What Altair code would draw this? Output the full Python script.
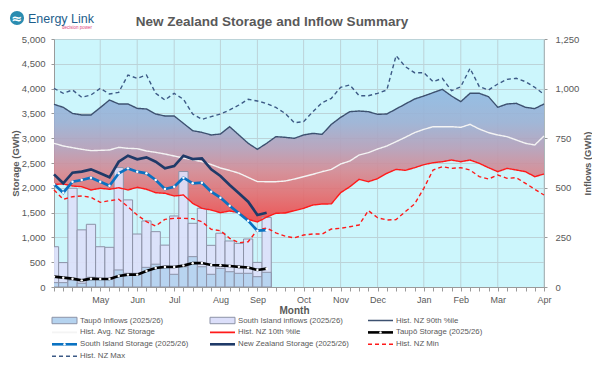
import altair as alt
import pandas as pd

# ---------------- data ----------------
chart_title = "New Zealand Storage and Inflow Summary"
month_labels = ["May", "Jun", "Jul", "Aug", "Sep", "Oct", "Nov", "Dec", "Jan", "Feb", "Mar", "Apr"]
month_weeks = [5, 9, 13, 18, 22, 27, 31, 35, 40, 44, 48, 53]

hist_90 = [3683, 3623, 3500, 3468, 3468, 3616, 3770, 3690, 3690, 3602,
           3589, 3488, 3448, 3448, 3300, 3151, 3118, 3065, 3085, 3232,
           3065, 2897, 2776, 2897, 3031, 3018, 2998, 3065, 3098, 3078,
           3279, 3420, 3535, 3548, 3535, 3481, 3488, 3589, 3690, 3790,
           3851, 3918, 3985, 3851, 3737, 3905, 3905, 3837, 3623, 3690,
           3703, 3623, 3596, 3690]
hist_avg = [2897, 2843, 2809, 2776, 2749, 2755, 2762, 2816, 2796, 2789,
            2742, 2715, 2681, 2641, 2600, 2565, 2527, 2470, 2400, 2350,
            2295, 2210, 2125, 2123, 2123, 2137, 2177, 2224, 2272, 2325,
            2372, 2480, 2540, 2661, 2708, 2782, 2843, 2930, 3018, 3112,
            3178, 3232, 3232, 3232, 3219, 3279, 3185, 3112, 3065, 3031,
            2964, 2897, 2863, 3044]
hist_10 = [2070, 2077, 2036, 2022, 1956, 1990, 1970, 2002, 1956, 2010,
           1970, 1901, 1889, 1835, 1855, 1687, 1586, 1552, 1498, 1532,
           1498, 1364, 1310, 1410, 1486, 1492, 1539, 1586, 1653, 1673,
           1676, 1901, 2022, 2170, 2123, 2184, 2291, 2372, 2352, 2405,
           2466, 2506, 2526, 2560, 2526, 2560, 2493, 2405, 2325, 2392,
           2359, 2325, 2224, 2278]
hist_min = [1956, 1768, 1821, 1835, 1808, 1707, 1740, 1768, 1619, 1452,
            1317, 1230, 1364, 1385, 1385, 1378, 1317, 1163, 1135, 982,
            893, 913, 1149, 1190, 1090, 1025, 990, 1048, 1068, 1068,
            1169, 1183, 1216, 1250, 1539, 1397, 1351, 1358, 1519, 1673,
            1990, 2359, 2426, 2392, 2405, 2359, 2224, 2177, 2258, 2191,
            2204, 2090, 1970, 1855]
hist_max = [4005, 3905, 3972, 3824, 3871, 4005, 3891, 3925, 4274, 4207,
            4274, 3905, 3770, 3905, 3784, 3488, 3380, 3434, 3488, 3569,
            3669, 3784, 3750, 3700, 3620, 3500, 3313, 3333, 3535, 3716,
            3804, 4026, 4073, 3857, 3857, 3905, 3972, 4664, 4442, 4321,
            4321, 4140, 4207, 3958, 4039, 4408, 4039, 3972, 4093, 4187,
            4207, 4140, 4026, 3884]

nz_storage = [2271, 2090, 2305, 2325, 2372, 2292, 2211, 2526, 2647, 2574,
              2614, 2526, 2392, 2439, 2647, 2580, 2594, 2372, 2238, 2056,
              1889, 1720, 1452, 1498]
si_storage = [2070, 1901, 2123, 2157, 2204, 2123, 2042, 2292, 2392, 2325,
              2292, 2157, 1976, 2022, 2204, 2090, 2103, 1922, 1801, 1640,
              1486, 1337, 1135, 1145]
taupo_storage = [208, 188, 168, 134, 168, 161, 161, 222, 249, 249,
                 323, 383, 405, 403, 432, 480, 484, 444, 437, 423,
                 406, 393, 343, 369]
si_inflows = [203, 123, 498, 288, 316, 203, 200, 602, 439, 267,
              333, 279, 211, 358, 582, 321, 397, 210, 271, 232,
              220, 242, 124, 351]
taupo_inflows = [22, 22, 35, 19, 49, 44, 39, 86, 69, 69,
                 99, 115, 100, 64, 102, 153, 102, 64, 94, 77,
                 69, 69, 52, 74]

S_TI = "Taupō Inflows (2025/26)"
S_SI = "South Island inflows (2025/26)"
S_90 = "Hist. NZ 90th %ile"
S_AVG = "Hist. Avg. NZ Storage"
S_10 = "Hist. NZ 10th %ile"
S_TS = "Taupō Storage (2025/26)"
S_SS = "South Island Storage (2025/26)"
S_NZ = "New Zealand Storage (2025/26)"
S_MIN = "Hist. NZ Min"
S_MAX = "Hist. NZ Max"

series_order = [S_TI, S_SI, S_90, S_AVG, S_10, S_TS, S_SS, S_NZ, S_MIN, S_MAX]
series_colors = ["#B5D3EF", "#DCDFFA", "#3D5170", "#F4F4F4", "#FF1A1A",
                 "#000000", "#0A72C2", "#1F3A68", "#FF1A1A", "#3D5A86"]
series_kind = ["bar", "bar", "thin", "thin", "thin", "thick", "thick", "thick", "thin", "thin"]
dashed = [S_MIN, S_MAX]

# ---------------- tables ----------------
weeks = list(range(len(hist_90)))
band_df = pd.DataFrame({"week": weeks, "p90": hist_90, "p10": hist_10})

hist_rows = []
for name, arr in [(S_AVG, hist_avg), (S_MIN, hist_min), (S_MAX, hist_max),
                  (S_10, hist_10), (S_90, hist_90)]:
    for w, v in enumerate(arr):
        hist_rows.append({"week": w, "series": name, "value": v})
hist_df = pd.DataFrame(hist_rows)

stor_rows = []
for name, arr in [(S_TS, taupo_storage), (S_SS, si_storage), (S_NZ, nz_storage)]:
    for w, v in enumerate(arr):
        stor_rows.append({"week": w, "series": name, "value": v})
stor_df = pd.DataFrame(stor_rows)
dots_df = stor_df[stor_df["series"] != S_NZ]

bar_rows = []
for name, arr in [(S_SI, si_inflows), (S_TI, taupo_inflows)]:
    for w, v in enumerate(arr):
        bar_rows.append({"week": w, "series": name, "inflow": v})
bar_df = pd.DataFrame(bar_rows)

grid_df = pd.DataFrame({"week": month_weeks})

# legend table (row-major, 3 columns)
legend_df = pd.DataFrame({
    "series": series_order,
    "kind": series_kind,
    "col": [i % 3 for i in range(len(series_order))],
    "row": [i // 3 for i in range(len(series_order))],
})

# ---------------- styling ----------------
FONT = "Liberation Sans, Arial, sans-serif"
TXT = "#595959"
AX = "#9A9A9A"
GRID = "#BCD3D8"
W, H = 490, 248

label_expr = ("indexof(" + str(month_weeks) + ", datum.value) >= 0 ? "
              + str(month_labels) + "[indexof(" + str(month_weeks) + ", datum.value)] : ''")

x_scale = alt.Scale(domain=[0, len(weeks) - 1], nice=False, zero=False)
x_axis = alt.Axis(orient="bottom", values=weeks, labelExpr=label_expr, grid=False, tickSize=4,
                  tickColor=AX, domainColor=AX, labelColor=TXT, labelFont=FONT,
                  labelFontSize=9, labelPadding=4, labelFlush=False, labelOverlap=False,
                  title="Month", titleFont=FONT, titleFontSize=10, titleFontWeight="bold",
                  titleColor=TXT, titleX=240, titleY=23, titleBaseline="middle")

storage_scale = alt.Scale(domain=[0, 5000], nice=False, zero=True)
inflow_scale = alt.Scale(domain=[0, 1250], nice=False, zero=True)

left_axis = alt.Axis(orient="left", values=list(range(0, 5001, 500)), format=",.0f",
                     grid=True, gridColor=GRID, tickSize=3, tickColor=AX, domainColor=AX,
                     labelColor=TXT, labelFont=FONT, labelFontSize=9.5, labelPadding=6,
                     title="Storage (GWh)", titleFont=FONT, titleFontSize=9.5,
                     titleFontWeight="bold", titleColor=TXT, titleAngle=270,
                     titleX=-39, titleY=124, titleAlign="center", titleBaseline="middle")
right_axis = alt.Axis(orient="right", values=list(range(0, 1251, 250)), format=",.0f",
                      grid=False, tickSize=3, tickColor=AX, domainColor=AX,
                      labelColor=TXT, labelFont=FONT, labelFontSize=9.5, labelPadding=8,
                      title="Inflows (GWh)", titleFont=FONT, titleFontSize=9.5,
                      titleFontWeight="bold", titleColor=TXT, titleAngle=270,
                      titleX=43, titleY=124, titleAlign="center", titleBaseline="middle")

color_enc = alt.Color("series:N", scale=alt.Scale(domain=series_order, range=series_colors),
                      legend=None)
dash_enc = alt.StrokeDash(
    "series:N",
    scale=alt.Scale(domain=series_order,
                    range=[[4, 3] if s in dashed else [1, 0] for s in series_order]),
    legend=None)

x_enc = alt.X("week:Q", scale=x_scale, axis=x_axis)
x_noax = alt.X("week:Q", scale=x_scale, axis=None)

# legend placement scales (pixel layout of the reference legend)
LEG_COL_PX = 158.0      # distance between legend columns
LEG_X0_PX = -2.0        # left of first swatch relative to plot
LEG_ROW_PX = 11.9       # distance between legend rows
LEG_Y0_PX = 281.5       # centre of first legend row relative to plot top
SWATCH = 25.0 / LEG_COL_PX
leg_x_scale = alt.Scale(domain=[-LEG_X0_PX / LEG_COL_PX, (W - LEG_X0_PX) / LEG_COL_PX],
                        nice=False, zero=False)
leg_y_scale = alt.Scale(domain=[-LEG_Y0_PX / LEG_ROW_PX, (H - LEG_Y0_PX) / LEG_ROW_PX],
                        nice=False, zero=False, reverse=True)

# ---------------- layers ----------------
vgrid = alt.Chart(grid_df).mark_rule(color=GRID, strokeWidth=1).encode(x=x_noax)

gradient = alt.Gradient(
    gradient="linear",
    stops=[alt.GradientStop(color="#8EB9E2", offset=0.0),
           alt.GradientStop(color="#9CB0D3", offset=0.25),
           alt.GradientStop(color="#B89DB6", offset=0.45),
           alt.GradientStop(color="#D68790", offset=0.62),
           alt.GradientStop(color="#E46A6C", offset=0.8),
           alt.GradientStop(color="#F04444", offset=1.0)],
    x1=0, x2=0, y1=0, y2=1,
)
band = alt.Chart(band_df).mark_area(color=gradient, fillOpacity=0.9).encode(
    x=x_noax,
    y=alt.Y("p90:Q", scale=storage_scale, axis=None),
    y2="p10:Q",
)

bars = alt.Chart(bar_df).transform_calculate(
    x0="datum.week - 0.5", x1="datum.week + 0.5", base="0"
).mark_rect(clip=True, stroke="#8D93A8", strokeWidth=1, fillOpacity=0.92).encode(
    x=alt.X("x0:Q", scale=x_scale, axis=None),
    x2="x1:Q",
    y=alt.Y("inflow:Q", scale=inflow_scale, axis=right_axis),
    y2="base:Q",
    color=color_enc,
)

hist_lines = alt.Chart(hist_df).mark_line(strokeWidth=1.4).encode(
    x=x_noax,
    y=alt.Y("value:Q", scale=storage_scale, axis=left_axis),
    color=color_enc,
    strokeDash=dash_enc,
)

stor_lines = alt.Chart(stor_df).mark_line(strokeWidth=2.7).encode(
    x=x_noax,
    y=alt.Y("value:Q", scale=storage_scale, axis=None),
    color=color_enc,
)

dots = alt.Chart(dots_df).mark_circle(color="#FFFFFF", size=6, opacity=1).encode(
    x=x_noax,
    y=alt.Y("value:Q", scale=storage_scale, axis=None),
)

# ---- legend drawn from legend_df ----
leg_base = alt.Chart(legend_df).transform_calculate(
    x_end="datum.col + %f" % SWATCH,
    x_mid="datum.col + %f" % (SWATCH / 2),
    x_txt="datum.col + %f" % (SWATCH + 3.0 / LEG_COL_PX),
    y_top="datum.row - 0.27",
    y_bot="datum.row + 0.27",
)
leg_y = alt.Y("row:Q", scale=leg_y_scale, axis=None)
leg_bars = leg_base.transform_filter("datum.kind === 'bar'").mark_rect(
    stroke="#8D93A8", strokeWidth=1).encode(
    x=alt.X("col:Q", scale=leg_x_scale, axis=None), x2="x_end:Q",
    y=alt.Y("y_top:Q", scale=leg_y_scale, axis=None), y2="y_bot:Q",
    color=color_enc,
)
leg_thin = leg_base.transform_filter("datum.kind === 'thin'").mark_rule(strokeWidth=1.6).encode(
    x=alt.X("col:Q", scale=leg_x_scale, axis=None), x2="x_end:Q",
    y=leg_y, color=color_enc, strokeDash=dash_enc,
)
leg_thick = leg_base.transform_filter("datum.kind === 'thick'").mark_rule(strokeWidth=2.6).encode(
    x=alt.X("col:Q", scale=leg_x_scale, axis=None), x2="x_end:Q",
    y=leg_y, color=color_enc,
)
leg_dots = leg_base.transform_filter(
    "datum.series === '%s' || datum.series === '%s'" % (S_TS, S_SS)
).mark_circle(color="#FFFFFF", size=6, opacity=1).encode(
    x=alt.X("x_mid:Q", scale=leg_x_scale, axis=None), y=leg_y,
)
leg_text = leg_base.mark_text(align="left", baseline="middle", font=FONT, fontSize=7.8,
                              color=TXT).encode(
    x=alt.X("x_txt:Q", scale=leg_x_scale, axis=None), y=leg_y, text="series:N",
)

# ---- heading: title and logo ----
title_mark = alt.Chart(pd.DataFrame({"t": [chart_title]})).mark_text(
    color=TXT, fontSize=13.5, fontWeight="bold", font=FONT, align="center",
    baseline="alphabetic"
).encode(x=alt.value(218), y=alt.value(-13), text="t:N")
logo_circle = alt.Chart(pd.DataFrame({"a": [1]})).mark_point(
    filled=True, color="#2A8CB0", size=200, opacity=1, shape="circle"
).encode(x=alt.value(-37), y=alt.value(-21))
logo_wave = alt.Chart(pd.DataFrame({"t": ["≈"]})).mark_text(
    color="#FFFFFF", fontSize=13, fontWeight="bold", font="DejaVu Sans"
).encode(x=alt.value(-37), y=alt.value(-20), text="t:N")
logo_text = alt.Chart(pd.DataFrame({"t": ["Energy Link"]})).mark_text(
    color="#1D5E8C", fontSize=12.5, font=FONT, align="left", baseline="alphabetic"
).encode(x=alt.value(-26), y=alt.value(-16), text="t:N")
logo_sub = alt.Chart(pd.DataFrame({"t": ["decision power"]})).mark_text(
    color="#E0447C", fontSize=4.5, font=FONT, align="right", baseline="alphabetic"
).encode(x=alt.value(38), y=alt.value(-10), text="t:N")

# x axis carrier (draws the month axis only)
x_axis_layer = alt.Chart(grid_df).mark_rule(opacity=0).encode(x=x_enc)

chart = alt.layer(
    vgrid, band, bars, hist_lines, stor_lines, dots,
    leg_bars, leg_thin, leg_thick, leg_dots, leg_text,
    title_mark, logo_circle, logo_wave, logo_text, logo_sub, x_axis_layer,
).resolve_scale(
    x="independent", y="independent"
).resolve_axis(
    x="independent", y="independent"
).properties(
    width=W, height=H,
    padding={"left": 46, "top": 31, "right": 48, "bottom": 72},
    autosize=alt.AutoSizeParams(type="none"),
    background="#FFFFFF",
).configure_view(stroke=None, fill="#CCF6FC")

chart.save("out.html", embed_options={"renderer": "svg", "actions": False})
